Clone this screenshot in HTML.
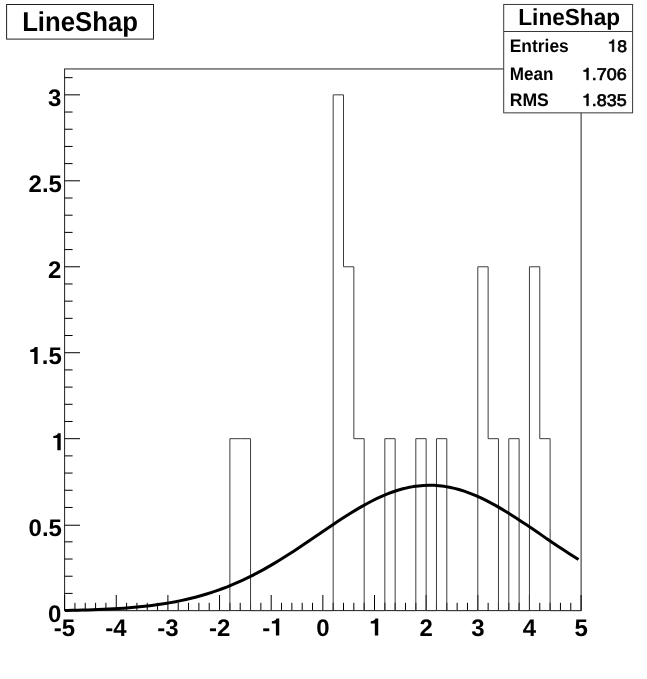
<!DOCTYPE html>
<html><head><meta charset="utf-8"><style>
html,body{margin:0;padding:0;background:#fff;overflow:hidden}
svg{display:block;will-change:transform;filter:grayscale(1)}
text{font-family:"Liberation Sans",sans-serif;fill:#000;text-rendering:geometricPrecision}
</style></head><body>
<svg width="647" height="679" viewBox="0 0 647 679">
<rect width="647" height="679" fill="#fff"/>
<rect x="64.6" y="68.95" width="516.50" height="541.65" fill="none" stroke="#222" stroke-width="1"/>
<g stroke="#000" stroke-width="1"><line x1="64.60" y1="610.6" x2="64.60" y2="595.00"/><line x1="74.93" y1="610.6" x2="74.93" y2="602.80"/><line x1="85.26" y1="610.6" x2="85.26" y2="602.80"/><line x1="95.59" y1="610.6" x2="95.59" y2="602.80"/><line x1="105.92" y1="610.6" x2="105.92" y2="602.80"/><line x1="116.25" y1="610.6" x2="116.25" y2="595.00"/><line x1="126.58" y1="610.6" x2="126.58" y2="602.80"/><line x1="136.91" y1="610.6" x2="136.91" y2="602.80"/><line x1="147.24" y1="610.6" x2="147.24" y2="602.80"/><line x1="157.57" y1="610.6" x2="157.57" y2="602.80"/><line x1="167.90" y1="610.6" x2="167.90" y2="595.00"/><line x1="178.23" y1="610.6" x2="178.23" y2="602.80"/><line x1="188.56" y1="610.6" x2="188.56" y2="602.80"/><line x1="198.89" y1="610.6" x2="198.89" y2="602.80"/><line x1="209.22" y1="610.6" x2="209.22" y2="602.80"/><line x1="219.55" y1="610.6" x2="219.55" y2="595.00"/><line x1="229.88" y1="610.6" x2="229.88" y2="602.80"/><line x1="240.21" y1="610.6" x2="240.21" y2="602.80"/><line x1="250.54" y1="610.6" x2="250.54" y2="602.80"/><line x1="260.87" y1="610.6" x2="260.87" y2="602.80"/><line x1="271.20" y1="610.6" x2="271.20" y2="595.00"/><line x1="281.53" y1="610.6" x2="281.53" y2="602.80"/><line x1="291.86" y1="610.6" x2="291.86" y2="602.80"/><line x1="302.19" y1="610.6" x2="302.19" y2="602.80"/><line x1="312.52" y1="610.6" x2="312.52" y2="602.80"/><line x1="322.85" y1="610.6" x2="322.85" y2="595.00"/><line x1="333.18" y1="610.6" x2="333.18" y2="602.80"/><line x1="343.51" y1="610.6" x2="343.51" y2="602.80"/><line x1="353.84" y1="610.6" x2="353.84" y2="602.80"/><line x1="364.17" y1="610.6" x2="364.17" y2="602.80"/><line x1="374.50" y1="610.6" x2="374.50" y2="595.00"/><line x1="384.83" y1="610.6" x2="384.83" y2="602.80"/><line x1="395.16" y1="610.6" x2="395.16" y2="602.80"/><line x1="405.49" y1="610.6" x2="405.49" y2="602.80"/><line x1="415.82" y1="610.6" x2="415.82" y2="602.80"/><line x1="426.15" y1="610.6" x2="426.15" y2="595.00"/><line x1="436.48" y1="610.6" x2="436.48" y2="602.80"/><line x1="446.81" y1="610.6" x2="446.81" y2="602.80"/><line x1="457.14" y1="610.6" x2="457.14" y2="602.80"/><line x1="467.47" y1="610.6" x2="467.47" y2="602.80"/><line x1="477.80" y1="610.6" x2="477.80" y2="595.00"/><line x1="488.13" y1="610.6" x2="488.13" y2="602.80"/><line x1="498.46" y1="610.6" x2="498.46" y2="602.80"/><line x1="508.79" y1="610.6" x2="508.79" y2="602.80"/><line x1="519.12" y1="610.6" x2="519.12" y2="602.80"/><line x1="529.45" y1="610.6" x2="529.45" y2="595.00"/><line x1="539.78" y1="610.6" x2="539.78" y2="602.80"/><line x1="550.11" y1="610.6" x2="550.11" y2="602.80"/><line x1="560.44" y1="610.6" x2="560.44" y2="602.80"/><line x1="570.77" y1="610.6" x2="570.77" y2="602.80"/><line x1="581.10" y1="610.6" x2="581.10" y2="595.00"/><line x1="64.6" y1="610.60" x2="80.0" y2="610.60"/><line x1="64.6" y1="593.41" x2="72.6" y2="593.41"/><line x1="64.6" y1="576.22" x2="72.6" y2="576.22"/><line x1="64.6" y1="559.02" x2="72.6" y2="559.02"/><line x1="64.6" y1="541.83" x2="72.6" y2="541.83"/><line x1="64.6" y1="525.24" x2="80.0" y2="525.24"/><line x1="64.6" y1="507.45" x2="72.6" y2="507.45"/><line x1="64.6" y1="490.26" x2="72.6" y2="490.26"/><line x1="64.6" y1="473.07" x2="72.6" y2="473.07"/><line x1="64.6" y1="455.88" x2="72.6" y2="455.88"/><line x1="64.6" y1="438.68" x2="80.0" y2="438.68"/><line x1="64.6" y1="421.49" x2="72.6" y2="421.49"/><line x1="64.6" y1="404.30" x2="72.6" y2="404.30"/><line x1="64.6" y1="387.11" x2="72.6" y2="387.11"/><line x1="64.6" y1="369.92" x2="72.6" y2="369.92"/><line x1="64.6" y1="352.73" x2="80.0" y2="352.73"/><line x1="64.6" y1="335.53" x2="72.6" y2="335.53"/><line x1="64.6" y1="318.34" x2="72.6" y2="318.34"/><line x1="64.6" y1="301.15" x2="72.6" y2="301.15"/><line x1="64.6" y1="283.96" x2="72.6" y2="283.96"/><line x1="64.6" y1="266.77" x2="80.0" y2="266.77"/><line x1="64.6" y1="249.58" x2="72.6" y2="249.58"/><line x1="64.6" y1="232.38" x2="72.6" y2="232.38"/><line x1="64.6" y1="215.19" x2="72.6" y2="215.19"/><line x1="64.6" y1="198.00" x2="72.6" y2="198.00"/><line x1="64.6" y1="180.81" x2="80.0" y2="180.81"/><line x1="64.6" y1="163.62" x2="72.6" y2="163.62"/><line x1="64.6" y1="146.43" x2="72.6" y2="146.43"/><line x1="64.6" y1="129.23" x2="72.6" y2="129.23"/><line x1="64.6" y1="112.04" x2="72.6" y2="112.04"/><line x1="64.6" y1="94.85" x2="80.0" y2="94.85"/><line x1="64.6" y1="77.66" x2="72.6" y2="77.66"/></g>
<path d="M64.60,610.60 L64.60,610.60 L74.93,610.60 L74.93,610.60 L85.26,610.60 L85.26,610.60 L95.59,610.60 L95.59,610.60 L105.92,610.60 L105.92,610.60 L116.25,610.60 L116.25,610.60 L126.58,610.60 L126.58,610.60 L136.91,610.60 L136.91,610.60 L147.24,610.60 L147.24,610.60 L157.57,610.60 L157.57,610.60 L167.90,610.60 L167.90,610.60 L178.23,610.60 L178.23,610.60 L188.56,610.60 L188.56,610.60 L198.89,610.60 L198.89,610.60 L209.22,610.60 L209.22,610.60 L219.55,610.60 L219.55,610.60 L229.88,610.60 L229.88,438.68 L240.21,438.68 L240.21,438.68 L250.54,438.68 L250.54,610.60 L260.87,610.60 L260.87,610.60 L271.20,610.60 L271.20,610.60 L281.53,610.60 L281.53,610.60 L291.86,610.60 L291.86,610.60 L302.19,610.60 L302.19,610.60 L312.52,610.60 L312.52,610.60 L322.85,610.60 L322.85,610.60 L333.18,610.60 L333.18,94.85 L343.51,94.85 L343.51,266.77 L353.84,266.77 L353.84,438.68 L364.17,438.68 L364.17,610.60 L374.50,610.60 L374.50,610.60 L384.83,610.60 L384.83,438.68 L395.16,438.68 L395.16,610.60 L405.49,610.60 L405.49,610.60 L415.82,610.60 L415.82,438.68 L426.15,438.68 L426.15,610.60 L436.48,610.60 L436.48,438.68 L446.81,438.68 L446.81,610.60 L457.14,610.60 L457.14,610.60 L467.47,610.60 L467.47,610.60 L477.80,610.60 L477.80,266.77 L488.13,266.77 L488.13,438.68 L498.46,438.68 L498.46,610.60 L508.79,610.60 L508.79,438.68 L519.12,438.68 L519.12,610.60 L529.45,610.60 L529.45,266.77 L539.78,266.77 L539.78,438.68 L550.11,438.68 L550.11,610.60 L560.44,610.60 L560.44,610.60 L570.77,610.60 L570.77,610.60 L581.10,610.60 L581.10,610.60" fill="none" stroke="#3c3c3c" stroke-width="1"/>
<path d="M64.90,610.46 L67.18,610.46 L72.35,610.35 L77.51,610.23 L82.68,610.10 L87.84,609.95 L93.01,609.77 L98.17,609.57 L103.34,609.35 L108.50,609.10 L113.67,608.82 L118.83,608.50 L124.00,608.14 L129.16,607.75 L134.33,607.31 L139.49,606.82 L144.66,606.27 L149.82,605.67 L154.99,605.01 L160.15,604.28 L165.32,603.49 L170.48,602.61 L175.65,601.66 L180.81,600.62 L185.98,599.50 L191.14,598.27 L196.31,596.96 L201.47,595.54 L206.64,594.01 L211.80,592.37 L216.97,590.62 L222.13,588.76 L227.30,586.78 L232.46,584.67 L237.63,582.45 L242.79,580.11 L247.96,577.65 L253.12,575.07 L258.29,572.37 L263.45,569.57 L268.62,566.65 L273.78,563.63 L278.95,560.52 L284.11,557.31 L289.28,554.03 L294.44,550.67 L299.61,547.25 L304.77,543.79 L309.94,540.29 L315.10,536.76 L320.27,533.23 L325.43,529.70 L330.60,526.20 L335.76,522.73 L340.93,519.33 L346.09,515.99 L351.26,512.74 L356.42,509.60 L361.59,506.59 L366.75,503.71 L371.92,501.00 L377.08,498.45 L382.25,496.09 L387.41,493.94 L392.58,492.00 L397.74,490.29 L402.91,488.81 L408.07,487.59 L413.24,486.61 L418.40,485.90 L423.57,485.46 L428.73,485.28 L433.90,485.37 L439.06,485.73 L444.23,486.36 L449.39,487.25 L454.56,488.39 L459.72,489.79 L464.89,491.43 L470.05,493.30 L475.22,495.38 L480.38,497.68 L485.55,500.16 L490.71,502.83 L495.88,505.65 L501.04,508.62 L506.21,511.73 L511.37,514.94 L516.54,518.25 L521.70,521.64 L526.87,525.09 L532.03,528.58 L537.20,532.10 L542.36,535.63 L547.53,539.16 L552.69,542.67 L557.86,546.15 L563.02,549.58 L568.19,552.96 L573.35,556.27 L578.52,559.50" fill="none" stroke="#000" stroke-width="3" stroke-linejoin="round"/>
<g transform="translate(53.80,635.60) scale(1.0000,1)" font-size="24" font-weight="bold" ><text x="0.00" y="0">-5</text></g><g transform="translate(105.18,635.60) scale(1.0000,1)" font-size="24" font-weight="bold" ><text x="0.00" y="0">-4</text></g><g transform="translate(157.19,635.60) scale(1.0000,1)" font-size="24" font-weight="bold" ><text x="0.00" y="0">-3</text></g><g transform="translate(208.90,635.60) scale(1.0000,1)" font-size="24" font-weight="bold" ><text x="0.00" y="0">-2</text></g><g transform="translate(262.19,635.60) scale(1.0000,1)" font-size="24" font-weight="bold" ><text x="0.00" y="0">-</text><path transform="translate(7.99,0) scale(0.02400)" d="M378,0 L238,0 L238,-505 L69,-505 L69,-596 C160,-598 238,-630 262,-710 L378,-710 Z" fill="#000" /></g><g transform="translate(316.19,635.60) scale(1.0000,1)" font-size="24" font-weight="bold" ><text x="0.00" y="0">0</text></g><g transform="translate(369.14,635.60) scale(1.0000,1)" font-size="24" font-weight="bold" ><path transform="translate(0.00,0) scale(0.02400)" d="M378,0 L238,0 L238,-505 L69,-505 L69,-596 C160,-598 238,-630 262,-710 L378,-710 Z" fill="#000" /></g><g transform="translate(419.55,635.60) scale(1.0000,1)" font-size="24" font-weight="bold" ><text x="0.00" y="0">2</text></g><g transform="translate(471.29,635.60) scale(1.0000,1)" font-size="24" font-weight="bold" ><text x="0.00" y="0">3</text></g><g transform="translate(522.67,635.60) scale(1.0000,1)" font-size="24" font-weight="bold" ><text x="0.00" y="0">4</text></g><g transform="translate(574.41,635.60) scale(1.0000,1)" font-size="24" font-weight="bold" ><text x="0.00" y="0">5</text></g><g transform="translate(48.06,621.50) scale(1.0000,1)" font-size="24" font-weight="bold" ><text x="0.00" y="0">0</text></g><g transform="translate(28.54,535.54) scale(1.0000,1)" font-size="24" font-weight="bold" ><text x="0.00" y="0">0.5</text></g><g transform="translate(51.63,450.18) scale(1.0000,1)" font-size="24" font-weight="bold" ><path transform="translate(0.00,0) scale(0.02400)" d="M378,0 L238,0 L238,-505 L69,-505 L69,-596 C160,-598 238,-630 262,-710 L378,-710 Z" fill="#000" /></g><g transform="translate(28.54,364.12) scale(1.0000,1)" font-size="24" font-weight="bold" ><path transform="translate(0.00,0) scale(0.02400)" d="M378,0 L238,0 L238,-505 L69,-505 L69,-596 C160,-598 238,-630 262,-710 L378,-710 Z" fill="#000" /><text x="13.34" y="0">.5</text></g><g transform="translate(48.06,277.67) scale(1.0000,1)" font-size="24" font-weight="bold" ><text x="0.00" y="0">2</text></g><g transform="translate(28.54,191.71) scale(1.0000,1)" font-size="24" font-weight="bold" ><text x="0.00" y="0">2.5</text></g><g transform="translate(48.06,105.75) scale(1.0000,1)" font-size="24" font-weight="bold" ><text x="0.00" y="0">3</text></g>
<rect x="6.6" y="4.5" width="146.9" height="34.6" fill="#fff" stroke="#222"/>
<g transform="translate(22.16,31.00) scale(0.9389,1)" font-size="27.4" font-weight="bold" ><text x="0.00" y="0">LineShap</text></g>
<rect x="503.7" y="4.45" width="128.9" height="108.4" fill="#fff" stroke="#383838"/>
<line x1="503.7" y1="31.5" x2="632.6" y2="31.5" stroke="#383838"/>
<g transform="translate(518.27,25.00) scale(0.9712,1)" font-size="23.3" font-weight="bold" ><text x="0.00" y="0">LineShap</text></g><g transform="translate(509.72,51.60) scale(0.9575,1)" font-size="18.2" font-weight="bold" ><text x="0.00" y="0">Entries</text></g><g transform="translate(509.75,79.90) scale(0.9393,1)" font-size="18.2" font-weight="bold" ><text x="0.00" y="0">Mean</text></g><g transform="translate(509.71,105.70) scale(0.9664,1)" font-size="18.2" font-weight="bold" ><text x="0.00" y="0">RMS</text></g><g transform="translate(607.53,51.60) scale(1.0459,1)" font-size="16.8" font-weight="normal" stroke="#000" stroke-width="0.7"><path transform="translate(0.00,0) scale(0.01680)" d="M359,0 L272,0 L272,-500 L101,-500 L101,-565 C190,-567 265,-600 288,-703 L359,-703 Z" fill="#000" stroke-width="41.7"/><text x="9.34" y="0">8</text></g><g transform="translate(581.89,79.80) scale(1.0680,1)" font-size="16.8" font-weight="normal" stroke="#000" stroke-width="0.7"><path transform="translate(0.00,0) scale(0.01680)" d="M359,0 L272,0 L272,-500 L101,-500 L101,-565 C190,-567 265,-600 288,-703 L359,-703 Z" fill="#000" stroke-width="41.7"/><text x="9.34" y="0">.706</text></g><g transform="translate(581.89,105.70) scale(1.0669,1)" font-size="16.8" font-weight="normal" stroke="#000" stroke-width="0.7"><path transform="translate(0.00,0) scale(0.01680)" d="M359,0 L272,0 L272,-500 L101,-500 L101,-565 C190,-567 265,-600 288,-703 L359,-703 Z" fill="#000" stroke-width="41.7"/><text x="9.34" y="0">.835</text></g>
</svg></body></html>
